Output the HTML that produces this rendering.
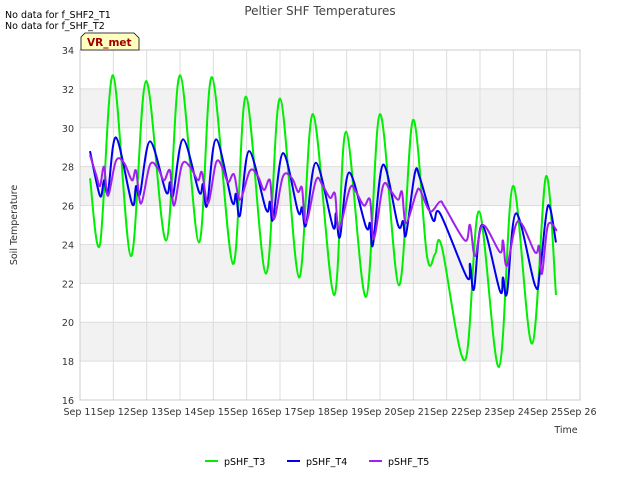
<!DOCTYPE html>
<html><head><meta charset="utf-8"><style>
body{margin:0;background:#fff;font-family:"DejaVu Sans",sans-serif}
svg text{font-family:"DejaVu Sans",sans-serif}
</style></head><body>
<svg id="c" width="640" height="480" xmlns="http://www.w3.org/2000/svg">
<rect width="640" height="480" fill="#fff"/>
<g id="grid"></g>
<g id="series"></g>
<g id="axes"></g>
<text x="320" y="15" text-anchor="middle" font-size="12" fill="#444">Peltier SHF Temperatures</text>
<text x="5" y="18" font-size="9.5" fill="#000">No data for f_SHF2_T1</text>
<text x="5" y="29" font-size="9.5" fill="#000">No data for f_SHF_T2</text>
<g>
<path d="M81,50 L81,37 L85,33 L134,33 L139,38 L139,50 Z" fill="#ffffc0" stroke="#000" stroke-width="0.8"/>
<text x="87" y="46" font-size="10.5" font-weight="bold" fill="#a00000">VR_met</text>
</g>
<text transform="translate(17,225) rotate(-90)" text-anchor="middle" font-size="9.5" fill="#333">Soil Temperature</text>
<text x="566" y="433" text-anchor="middle" font-size="9.5" fill="#333">Time</text>
<g id="legend"></g>
</svg>
<script>
const NS="http://www.w3.org/2000/svg";
const yTicks=[16,18,20,22,24,26,28,30,32,34];
const xTickLabels=["Sep 11","Sep 12","Sep 13","Sep 14","Sep 15","Sep 16","Sep 17","Sep 18","Sep 19","Sep 20","Sep 21","Sep 22","Sep 23","Sep 24","Sep 25","Sep 26"];
const seriesNames=["pSHF_T3","pSHF_T4","pSHF_T5"];
const seriesColors=["#00ee00","#0000ee","#a020f0"];
const t3Days=[0.3,0.6,0.99,1.53,1.98,2.58,3.0,3.57,3.96,4.59,4.98,5.58,6.0,6.57,6.99,7.62,7.98,8.58,9.0,9.57,9.99,10.41,10.65,10.85,11.55,11.97,12.57,12.99,13.56,13.98,14.28];
const t3Vals=[27.4,24.0,32.7,23.4,32.4,24.2,32.7,24.1,32.6,23.0,31.6,22.5,31.5,22.3,30.7,21.4,29.8,21.3,30.7,21.9,30.4,23.4,23.5,23.9,18.05,25.7,17.7,27.0,18.9,27.5,21.4];
const t4Days=[0.3,0.6,0.72,0.84,1.08,1.56,1.68,1.8,2.1,2.58,2.7,2.79,3.09,3.57,3.69,3.81,4.08,4.56,4.68,4.8,5.07,5.58,5.7,5.79,6.09,6.54,6.66,6.78,7.08,7.59,7.68,7.8,8.07,8.58,8.7,8.79,9.09,9.54,9.69,9.78,10.05,10.2,10.59,10.8,11.61,11.7,11.82,12.06,12.6,12.69,12.81,13.08,13.65,13.8,14.04,14.28];
const t4Vals=[28.8,26.5,27.3,26.7,29.5,26.1,27.0,26.6,29.3,26.7,27.2,26.5,29.4,26.7,27.1,26.0,29.4,26.2,26.6,25.5,28.8,25.8,26.2,25.3,28.7,25.7,25.9,25.0,28.2,24.9,25.6,24.4,27.7,24.9,25.1,24.0,28.1,25.0,25.2,24.5,27.7,27.4,25.25,25.6,22.3,23.0,21.7,25.0,21.6,22.3,21.5,25.6,21.9,22.6,26.0,24.1];
const t5Days=[0.3,0.48,0.6,0.72,0.84,1.08,1.32,1.56,1.68,1.83,2.1,2.34,2.52,2.7,2.82,3.06,3.3,3.54,3.66,3.84,4.08,4.26,4.44,4.62,4.8,5.1,5.34,5.52,5.7,5.82,6.09,6.36,6.54,6.66,6.78,7.08,7.26,7.5,7.65,7.77,8.1,8.28,8.52,8.7,8.82,9.09,9.3,9.54,9.66,9.78,10.08,10.2,10.5,10.8,10.95,11.55,11.7,11.85,12.09,12.6,12.69,12.81,13.14,13.65,13.77,13.86,14.04,14.31];
const t5Vals=[28.6,27.6,27.0,28.0,26.5,28.3,28.2,27.3,27.8,26.1,28.1,27.9,27.3,27.8,26.0,28.1,28.0,27.3,27.7,26.1,28.2,28.0,27.2,27.6,26.3,27.8,27.5,26.8,27.3,25.3,27.5,27.4,26.7,26.9,25.1,27.3,27.1,26.4,26.6,24.8,26.9,26.7,26.0,26.3,24.3,27.0,26.8,26.3,26.7,25.1,26.6,26.8,25.7,26.2,25.9,24.2,25.0,23.4,25.0,23.6,24.2,22.9,25.2,23.6,23.9,22.5,25.0,24.7];
const L=80,R=580,T=50,B=400;
const xS=d=>L+d*(R-L)/15;
const yS=v=>B-(v-16)*(B-T)/18;
const grid=document.getElementById('grid'),axes=document.getElementById('axes'),ser=document.getElementById('series'),leg=document.getElementById('legend');
function mk(tag,attrs,parent){const e=document.createElementNS(NS,tag);for(const k in attrs)e.setAttribute(k,attrs[k]);parent.appendChild(e);return e;}
for(let i=0;i<yTicks.length-1;i++){
  if(yTicks[i]%4===2){const r=mk('rect',{x:L,y:yS(yTicks[i+1]),width:R-L,height:yS(yTicks[i])-yS(yTicks[i+1]),fill:'#f2f2f2'},grid);
  
  }
}
yTicks.forEach(v=>{
  const l=mk('line',{x1:L,x2:R,y1:yS(v),y2:yS(v),stroke:'#dddddd','stroke-width':1},grid);
  
  
  const t=mk('text',{x:L-6,y:yS(v)+4,'text-anchor':'end','font-size':9.5,fill:'#333'},axes);t.textContent=v;
  
  
});
xTickLabels.forEach((s,i)=>{
  const l=mk('line',{x1:xS(i),x2:xS(i),y1:T,y2:B,stroke:'#dddddd','stroke-width':1},grid);
  
  
  const t=mk('text',{x:xS(i),y:B+15,'text-anchor':'middle','font-size':9.5,fill:'#333'},axes);t.textContent=s;
  
  
});
const fr=mk('rect',{x:L,y:T,width:R-L,height:B-T,fill:'none',stroke:'#cccccc'},axes);


function path(days,vals){
  const p=days.map((d,i)=>[xS(d),yS(vals[i])]);
  let s='M'+p[0][0].toFixed(1)+','+p[0][1].toFixed(1);
  for(let i=0;i<p.length-1;i++){
    const p0=p[i-1]||p[i],p1=p[i],p2=p[i+1],p3=p[i+2]||p[i+1];
    const c1=[p1[0]+(p2[0]-p0[0])/6,p1[1]+(p2[1]-p0[1])/6],c2=[p2[0]-(p3[0]-p1[0])/6,p2[1]-(p3[1]-p1[1])/6];
    s+=' C'+c1.map(n=>n.toFixed(1))+' '+c2.map(n=>n.toFixed(1))+' '+p2[0].toFixed(1)+','+p2[1].toFixed(1);
  }
  return s;
}
const sets=[[t3Days,t3Vals],[t4Days,t4Vals],[t5Days,t5Vals]];
sets.forEach((s,i)=>{
  const e=mk('path',{d:path(s[0],s[1]),fill:'none',stroke:seriesColors[i],'stroke-width':2,'stroke-linejoin':'round'},ser);
  
  
});
const lx=[205,287,369];
seriesNames.forEach((n,i)=>{
  const g=mk('g',{},leg);
  
  
  mk('line',{x1:lx[i],x2:lx[i]+13,y1:461,y2:461,stroke:seriesColors[i],'stroke-width':2},g);
  const t=mk('text',{x:lx[i]+19,y:465,'font-size':9.5,fill:'#000'},g);t.textContent=n;
});
</script>
</body></html>
